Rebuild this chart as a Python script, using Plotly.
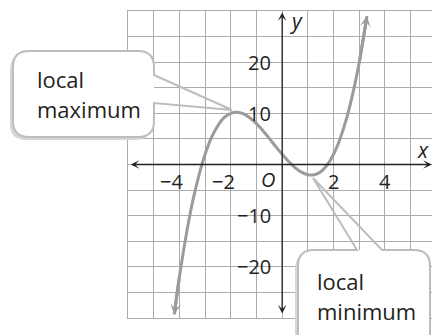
import plotly.graph_objects as go

# ---- data ----
curve_x = [-4.2, -4.0, -3.75, -3.5, -3.25, -3.0, -2.75, -2.5, -2.25, -2.0, -1.75, -1.5,
           -1.25, -1.0, -0.75, -0.5, -0.25, 0.0, 0.25, 0.5, 0.75, 1.0, 1.25, 1.5,
           1.75, 2.0, 2.25, 2.5, 2.75, 3.0, 3.3]
curve_y = [-29.3, -22.0, -14.2, -7.6, -2.3, 2.0, 5.3, 7.6, 9.2, 10.0, 10.2, 9.9,
           9.1, 8.0, 6.6, 5.1, 3.5, 2.0, 0.6, -0.6, -1.5, -2.0, -2.0, -1.4,
           -0.1, 2.0, 5.0, 8.9, 13.9, 20.0, 29.0]

x_ticks = [-4, -2, 2, 4]
x_tick_labels = ["\u22124", "\u22122", "2", "4"]
y_ticks = [20, 10, -10, -20]
y_tick_labels = ["20", "10", "\u221210", "\u221220"]

x_range = [-6, 5.83]
y_range = [-30, 30]

callout_max = ["local", "maximum"]
callout_min = ["local", "minimum"]

# ---- layout geometry (pixels) ----
W_FIG, H_FIG = 432, 335
ML, MT, MR, MB = 128, 11, 0, 17
PW, PH = W_FIG - ML - MR, H_FIG - MT - MB

def PX(x):
    return (x - ML) / PW

def PY(y):
    return (MT + PH - y) / PH

GRID = "#ababab"
AXIS = "#231f20"
CURVE = "#9b9b9b"
BORDER = "#bdbdbd"
SHADOW = "#d6d6d6"
TXT = "#231f20"
FONT = "Open Sans"

fig = go.Figure()
fig.add_trace(go.Scatter(x=curve_x, y=curve_y, mode="lines",
                         line=dict(color=CURVE, width=3, shape="spline"),
                         hoverinfo="skip"))


def path_str(pts):
    out = []
    for p in pts:
        cmd = p[0]
        nums = p[1:]
        coords = []
        for i in range(0, len(nums), 2):
            coords.append(f"{PX(nums[i]):.5f},{PY(nums[i+1]):.5f}")
        out.append(cmd + " ".join(coords))
    return " ".join(out)


def rrect(x0, y0, x1, y1, r):
    pts = [("M", x0 + r, y0), ("L", x1 - r, y0), ("Q", x1, y0, x1, y0 + r),
           ("L", x1, y1 - r), ("Q", x1, y1, x1 - r, y1), ("L", x0 + r, y1),
           ("Q", x0, y1, x0, y1 - r), ("L", x0, y0 + r), ("Q", x0, y0, x0 + r, y0)]
    return path_str(pts) + " Z"


shapes = []
R = 16
# local maximum callout
bx0, by0, bx1, by1 = 13, 51, 154, 137
shapes.append(dict(type="path", xref="paper", yref="paper", layer="above",
                   path=rrect(bx0 - 3, by0 + 3, bx1 - 3, by1 + 3, R),
                   fillcolor=SHADOW, line=dict(width=0)))
shapes.append(dict(type="path", xref="paper", yref="paper", layer="above",
                   path=rrect(bx0, by0, bx1, by1, R),
                   fillcolor="white", line=dict(width=0)))
pts = [("M", bx1, 75), ("L", bx1, by0 + R), ("Q", bx1, by0, bx1 - R, by0),
       ("L", bx0 + R, by0), ("Q", bx0, by0, bx0, by0 + R), ("L", bx0, by1 - R),
       ("Q", bx0, by1, bx0 + R, by1), ("L", bx1 - R, by1), ("Q", bx1, by1, bx1, by1 - R),
       ("L", bx1, 103), ("L", 232, 110)]
shapes.append(dict(type="path", xref="paper", yref="paper", layer="above",
                   path=path_str(pts) + " Z", fillcolor="rgba(0,0,0,0)",
                   line=dict(color=BORDER, width=2)))

# local minimum callout
cx0, cy0, cx1, cy1 = 298, 250, 430, 370
shapes.append(dict(type="path", xref="paper", yref="paper", layer="above",
                   path=rrect(cx0 - 3, cy0 + 3, cx1 - 3, cy1 + 3, R),
                   fillcolor=SHADOW, line=dict(width=0)))
shapes.append(dict(type="path", xref="paper", yref="paper", layer="above",
                   path=rrect(cx0, cy0, cx1, cy1, R),
                   fillcolor="white", line=dict(width=0)))
pts = [("M", 357, cy0), ("L", cx0 + R, cy0), ("Q", cx0, cy0, cx0, cy0 + R),
       ("L", cx0, cy1 - R), ("Q", cx0, cy1, cx0 + R, cy1), ("L", cx1 - R, cy1),
       ("Q", cx1, cy1, cx1, cy1 - R), ("L", cx1, cy0 + R), ("Q", cx1, cy0, cx1 - R, cy0),
       ("L", 382, cy0), ("L", 313, 178)]
shapes.append(dict(type="path", xref="paper", yref="paper", layer="above",
                   path=path_str(pts) + " Z", fillcolor="rgba(0,0,0,0)",
                   line=dict(color=BORDER, width=2)))

ann = []
# axes with arrows
ann.append(dict(x=5.82, y=0, ax=-5.95, ay=0, xref="x", yref="y", axref="x", ayref="y",
                text="", showarrow=True, arrowside="end+start", arrowhead=3,
                startarrowhead=3, arrowsize=1.1, startarrowsize=1.1,
                arrowwidth=1.3, arrowcolor=AXIS))
ann.append(dict(x=0, y=29.7, ax=0, ay=-29.4, xref="x", yref="y", axref="x", ayref="y",
                text="", showarrow=True, arrowside="end+start", arrowhead=3,
                startarrowhead=3, arrowsize=1.1, startarrowsize=1.1,
                arrowwidth=1.3, arrowcolor=AXIS))
# curve end arrows
for i0, i1 in [(0, 1), (-1, -2)]:
    ann.append(dict(x=curve_x[i0], y=curve_y[i0], ax=curve_x[i1], ay=curve_y[i1],
                    xref="x", yref="y", axref="x", ayref="y", text="", showarrow=True,
                    arrowhead=3, arrowsize=0.6, arrowwidth=3, arrowcolor=CURVE))

# tick labels
for v, t in zip(x_ticks, x_tick_labels):
    neg = t.startswith("\u2212")
    ann.append(dict(x=v, y=0, xref="x", yref="y", text=t, showarrow=False,
                    xanchor="right" if neg else "center", yanchor="middle",
                    xshift=6 if neg else 0, yshift=-17,
                    font=dict(family=FONT, size=20, color=TXT)))
for v, t in zip(y_ticks, y_tick_labels):
    ann.append(dict(x=0, y=v, xref="x", yref="y", text=t, showarrow=False,
                    xanchor="right", yanchor="middle", xshift=-9,
                    font=dict(family=FONT, size=20, color=TXT)))
ann.append(dict(x=0, y=0, xref="x", yref="y", text="<i>O</i>", showarrow=False,
                xanchor="center", yanchor="middle", xshift=-14, yshift=-15,
                font=dict(family=FONT, size=20, color=TXT)))
ann.append(dict(x=PX(423), y=PY(150), xref="paper", yref="paper", text="<i>x</i>",
                showarrow=False, xanchor="center", yanchor="middle",
                font=dict(family=FONT, size=21, color=TXT)))
ann.append(dict(x=PX(296), y=PY(21), xref="paper", yref="paper", text="<i>y</i>",
                showarrow=False, xanchor="center", yanchor="middle",
                font=dict(family=FONT, size=21, color=TXT)))

# callout text
for (lx, ly), lines in [((35, 79), callout_max), ((315, 281), callout_min)]:
    for k, t in enumerate(lines):
        ann.append(dict(x=PX(lx), y=PY(ly + 30 * k), xref="paper", yref="paper",
                        text=t, showarrow=False, xanchor="left", yanchor="middle",
                        font=dict(family=FONT, size=22, color=TXT)))

fig.update_layout(
    width=W_FIG, height=H_FIG,
    margin=dict(l=ML, r=MR, t=MT, b=MB, pad=0),
    paper_bgcolor="white", plot_bgcolor="white",
    showlegend=False,
    xaxis=dict(range=x_range, dtick=1, tick0=0, showgrid=True, gridcolor=GRID,
               gridwidth=1.3, zeroline=False, showticklabels=False, ticks="",
               showline=True, mirror=True, linecolor=GRID, linewidth=1.3,
               fixedrange=True),
    yaxis=dict(range=y_range, dtick=5, tick0=0, showgrid=True, gridcolor=GRID,
               gridwidth=1.3, zeroline=False, showticklabels=False, ticks="",
               showline=True, linecolor=GRID, linewidth=1.3, fixedrange=True),
    shapes=shapes,
    annotations=ann,
)

fig.write_html("out.html", config={"displayModeBar": False},
               post_script="document.body.style.margin='0px';document.body.style.overflow='hidden';")
